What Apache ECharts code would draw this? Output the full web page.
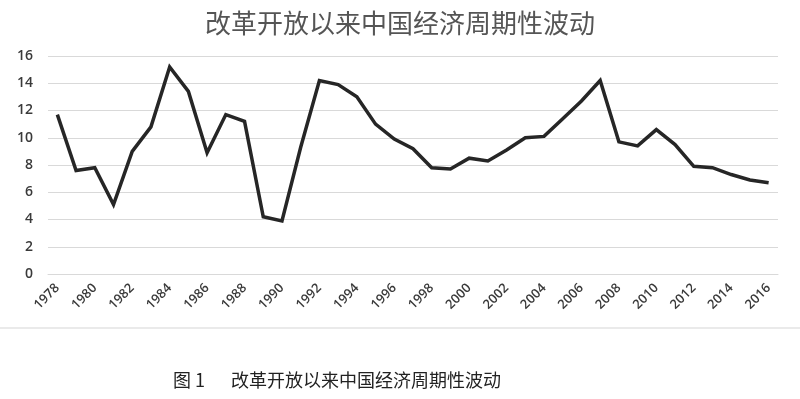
<!DOCTYPE html>
<html><head><meta charset="utf-8">
<script src="https://cdn.jsdelivr.net/npm/echarts@6/dist/echarts.min.js"></script>
<style>html,body{margin:0;padding:0;background:#fff;}#c{width:800px;height:399px;}</style>
</head><body><div id="c"></div>
<script>
const titleText = '改革开放以来中国经济周期性波动';
const captionText = '图 1\u3000  改革开放以来中国经济周期性波动';
const years = ['1978','1979','1980','1981','1982','1983','1984','1985','1986','1987','1988','1989','1990','1991','1992','1993','1994','1995','1996','1997','1998','1999','2000','2001','2002','2003','2004','2005','2006','2007','2008','2009','2010','2011','2012','2013','2014','2015','2016'];
const growth = [11.7,7.6,7.8,5.1,9.0,10.8,15.2,13.4,8.9,11.7,11.2,4.2,3.9,9.3,14.2,13.9,13.0,11.0,9.9,9.2,7.8,7.7,8.5,8.3,9.1,10.0,10.1,11.4,12.7,14.2,9.7,9.4,10.6,9.5,7.9,7.8,7.3,6.9,6.7];
const yTicks = {min:0, max:16, interval:2};

const chart = echarts.init(document.getElementById('c'), null, {renderer:'canvas'});
chart.setOption({
  backgroundColor:'#fff',
  animation:false,
  title:{
    text:titleText, left:'center', top:5,
    textStyle:{fontFamily:'Noto Sans CJK SC', fontSize:26, fontWeight:'normal', color:'#555'}
  },
  grid:{left:48, right:22, top:56, bottom:125, containLabel:false},
  xAxis:{
    type:'category', data:years, boundaryGap:true,
    axisLine:{show:true, lineStyle:{color:'#d9d9d9', width:1}},
    axisTick:{show:false},
    axisLabel:{interval:1, rotate:45, margin:12, color:'#3a3a3a', fontSize:13, fontFamily:'Open Sans', fontWeight:600}
  },
  yAxis:{
    type:'value', min:yTicks.min, max:yTicks.max, interval:yTicks.interval,
    axisLine:{show:false}, axisTick:{show:false},
    splitLine:{lineStyle:{color:'#d9d9d9', width:1}},
    axisLabel:{margin:15, color:'#3a3a3a', fontSize:14, fontFamily:'Open Sans', fontWeight:600}
  },
  series:[{
    type:'line', data:growth, symbol:'none',
    lineStyle:{color:'#262626', width:3.5, join:'miter'}
  }],
  graphic:[
    {type:'line', shape:{x1:0,y1:328,x2:800,y2:328}, style:{stroke:'#e3e3e3', lineWidth:1.5}},
    {type:'text', left:173, top:371, style:{text:captionText, font:'18px "Noto Sans CJK SC"', fill:'#222'}}
  ]
});
</script></body></html>
